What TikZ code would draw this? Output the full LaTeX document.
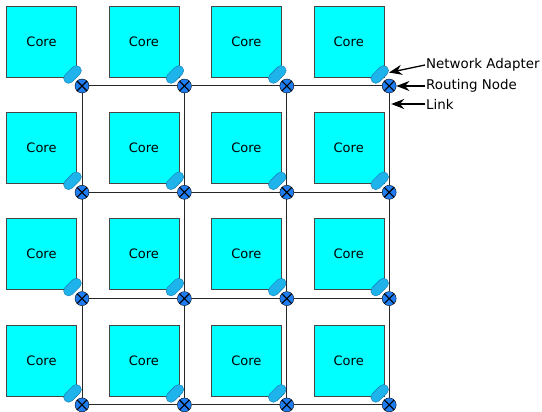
\documentclass[tikz,border=0pt]{standalone}
\usepackage{fontspec}
\setmainfont{DejaVu Sans}
\usetikzlibrary{arrows.meta,positioning}
\definecolor{corefill}{RGB}{0,255,255}
\definecolor{coreline}{RGB}{70,70,70}
\definecolor{adfill}{RGB}{30,180,235}
\definecolor{adline}{RGB}{20,120,175}
\definecolor{rnfill}{RGB}{30,125,240}
\tikzstyle{core} = [rectangle, draw=coreline, fill=corefill, minimum width=70pt,
                    minimum height=71pt, font=\fontsize{13}{15}\selectfont]
\tikzstyle{adapter} = [rectangle, draw=adline, fill=adfill, rounded corners=5pt,
                       minimum width=21pt, minimum height=10pt, inner sep=0pt, rotate=45]
\tikzstyle{router} = [circle, draw=black, fill=rnfill, minimum size=14pt, inner sep=0pt,
                      path picture={\draw[line width=1.1pt]
                        (path picture bounding box.north west) -- (path picture bounding box.south east)
                        (path picture bounding box.north east) -- (path picture bounding box.south west);}]
\tikzstyle{link} = [draw=black!85, line width=1pt]
\tikzstyle{tag} = [anchor=west, inner sep=1pt, font=\fontsize{13.4}{16}\selectfont]
\tikzstyle{arrow} = [-{Stealth[length=13pt,width=10pt]}, line width=1.3pt]

\begin{document}
\begin{tikzpicture}[x=1pt, y=-1pt]
    \useasboundingbox (0,0) rectangle (542,412);
    % tiles: core, network adapter, routing node
    \foreach \i in {0,...,3}
      \foreach \j in {0,...,3} {
        \node [core] (core-\i-\j) at ({41.5+102.4*\i},{41.5+106.3*\j}) {Core};
        \node [adapter] (na-\i-\j) at ({72.5+102.4*\i},{74.5+106.3*\j}) {};
        \node [router] (rn-\i-\j) at ({82+102.4*\i},{86+106.3*\j}) {};
      }
    % mesh links
    \foreach \i in {0,...,3}
      \foreach \j [count=\k] in {0,...,2} {
        \draw [link] (rn-\i-\j) -- (rn-\i-\k);
        \draw [link] (rn-\j-\i) -- (rn-\k-\i);
      }

    \node [tag] (tag-na) at (425,65)  {Network Adapter};
    \node [tag] (tag-rn) at (425,86)  {Routing Node};
    \node [tag] (tag-lk) at (425,104) {Link};
    \coordinate (lk) at ([xshift=2pt]rn-3-0 |- tag-lk);

    \draw [arrow] (tag-na.west) -- (na-3-0);
    \draw [arrow] (tag-rn.west) -- (rn-3-0);
    \draw [arrow] (tag-lk.west) -- (lk);
\end{tikzpicture}
\end{document}
